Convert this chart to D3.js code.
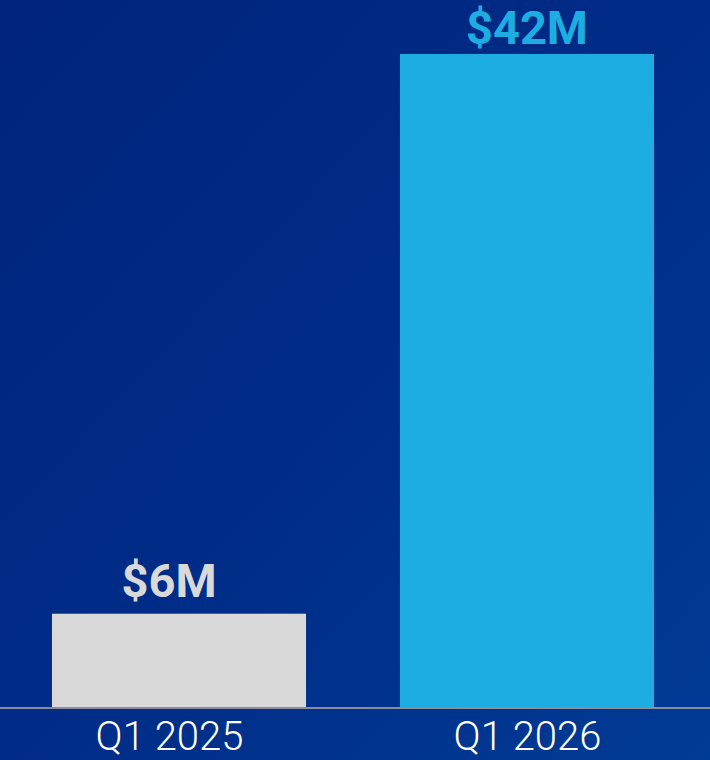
<!DOCTYPE html>
<html><head><meta charset="utf-8">
<script src="https://cdn.jsdelivr.net/npm/d3@7"></script>
<style>html,body{margin:0;padding:0;background:#002a85;}svg{display:block;}</style>
</head><body>
<script>
const categories = ["Q1 2025", "Q1 2026"];
const values = [6, 42];
const valueLabels = ["$6M", "$42M"];
const barColors = ["#d9d9d9", "#1eade2"];

const W = 710, H = 760;
const baseY = 707, topY = 54;
const svg = d3.select("body").append("svg").attr("width", W).attr("height", H);

const defs = svg.append("defs");
const g = defs.append("linearGradient").attr("id","bg").attr("x1","0").attr("y1","0").attr("x2","1").attr("y2","1");
g.append("stop").attr("offset","0").attr("stop-color","#00247d");
g.append("stop").attr("offset","0.5").attr("stop-color","#002c87");
g.append("stop").attr("offset","1").attr("stop-color","#003b95");
svg.append("rect").attr("width",W).attr("height",H).attr("fill","url(#bg)");

const x = d3.scaleBand().domain(categories).range([5, 701]).paddingInner(0.27).paddingOuter(0.135);
// text positions (labels sit slightly off the bar centres in the reference)
const xt = d3.scalePoint().domain(categories).range([169, 527]);
const y = d3.scaleLinear().domain([0, 42]).range([baseY, topY]);

svg.selectAll("rect.bar").data(values).join("rect").attr("class","bar")
  .attr("x",(d,i)=>x(categories[i])).attr("width",x.bandwidth())
  .attr("y",d=>y(d)).attr("height",d=>baseY-y(d))
  .attr("fill",(d,i)=>barColors[i]);

svg.selectAll("text.val").data(values).join("text").attr("class","val")
  .attr("x",(d,i)=>xt(categories[i]))
  .attr("y",d=>Math.max(y(d)-17, 44))
  .attr("text-anchor","middle")
  .attr("font-family","Roboto, 'Open Sans', sans-serif")
  .attr("font-weight",700).attr("font-size",47)
  .attr("fill",(d,i)=>barColors[i])
  .text((d,i)=>valueLabels[i]);

const ax = svg.append("g").attr("transform",`translate(0,${baseY+1})`);
ax.append("line").attr("x1",0).attr("x2",W).attr("y1",0).attr("y2",0).attr("stroke","#8a8c9e").attr("stroke-width",2);
ax.call(d3.axisBottom(xt).tickSize(0).tickPadding(14)).select(".domain").remove();
ax.selectAll(".tick text")
  .attr("font-family","Roboto, sans-serif").attr("font-weight",300)
  .attr("font-size",40).attr("fill","#ffffff");
</script>
</body></html>
